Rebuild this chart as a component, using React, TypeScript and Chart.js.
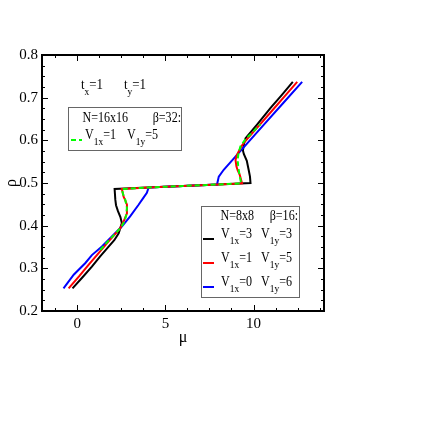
import React, { useEffect, useRef } from "react";
import { Chart, registerables } from "chart.js";

Chart.register(...registerables);

const X_MIN = -2;
const X_MAX = 14;
const Y_MIN = 0.2;
const Y_MAX = 0.8;

const xMajorTicks = [0, 5, 10];
const xMinorTicks = [-1.25, 1.25, 2.5, 3.75, 6.25, 7.5, 8.75, 11.25, 12.5, 13.75];
const yMajorTicks = [0.2, 0.3, 0.4, 0.5, 0.6, 0.7, 0.8];
const yMinorTicks = [
  0.225, 0.25, 0.275, 0.325, 0.35, 0.375, 0.425, 0.45, 0.475,
  0.525, 0.55, 0.575, 0.625, 0.65, 0.675, 0.725, 0.75, 0.775,
];

// N=8x8, V1x=3 V1y=3
const blackX = [-0.27, 0.3, 0.83, 1.3, 1.78, 2.1, 2.35, 2.53, 2.45, 2.31, 2.2, 2.16, 2.12, 4.0, 6.0, 8.0, 9.83, 9.8, 9.73, 9.62, 9.45, 9.4, 9.46, 9.55, 10.2, 10.97, 11.6, 12.23];
const blackY = [0.253, 0.279, 0.304, 0.328, 0.351, 0.366, 0.382, 0.406, 0.42, 0.434, 0.448, 0.461, 0.486, 0.4894, 0.493, 0.4966, 0.5, 0.515, 0.53, 0.552, 0.568, 0.576, 0.592, 0.605, 0.637, 0.676, 0.706, 0.737];

// N=8x8, V1x=1 V1y=5
const redX = [-0.49, 0.1, 0.64, 1.2, 1.78, 2.1, 2.44, 2.65, 2.82, 2.82, 2.72, 2.63, 2.53, 4.0, 6.0, 8.0, 9.35, 9.22, 9.1, 9.03, 8.98, 9.05, 9.16, 9.3, 9.45, 10.3, 11.15, 11.8, 12.48];
const redY = [0.253, 0.281, 0.308, 0.335, 0.363, 0.378, 0.394, 0.412, 0.429, 0.449, 0.46, 0.468, 0.486, 0.4894, 0.493, 0.4966, 0.4991, 0.519, 0.53, 0.539, 0.554, 0.565, 0.574, 0.585, 0.594, 0.634, 0.674, 0.705, 0.737];

// N=8x8, V1x=0 V1y=6
const blueX = [-0.78, -0.2, 0.45, 0.83, 1.4, 1.95, 2.53, 3.0, 3.48, 3.75, 3.95, 4.05, 6.0, 7.93, 8.03, 8.31, 9.0, 10.59, 11.7, 12.76];
const blueY = [0.253, 0.285, 0.312, 0.331, 0.351, 0.374, 0.398, 0.422, 0.449, 0.465, 0.477, 0.4895, 0.493, 0.4965, 0.515, 0.531, 0.563, 0.637, 0.688, 0.737];

// N=16x16, V1x=1 V1y=5
const greenX = [1.3, 1.78, 2.2, 2.5, 2.68, 2.78, 2.82, 2.72, 2.6, 2.53, 4.0, 6.0, 8.0, 9.3, 9.2, 9.13, 9.1, 9.15, 9.26, 9.55, 10.0, 10.4];
const greenY = [0.343, 0.365, 0.383, 0.397, 0.41, 0.425, 0.442, 0.461, 0.474, 0.486, 0.4894, 0.493, 0.4966, 0.499, 0.52, 0.54, 0.555, 0.57, 0.586, 0.603, 0.621, 0.638];

const FONT = '"Liberation Serif", "Times New Roman", serif';
const SX = 0.86; // horizontal squeeze of legend text

type Part = [string, boolean];

function richWidth(ctx: CanvasRenderingContext2D, parts: Part[], size: number, subSize: number) {
  let w = 0;
  for (const [t, sub] of parts) {
    ctx.font = `${sub ? subSize : size}px ${FONT}`;
    w += ctx.measureText(t).width;
  }
  return w * SX;
}

function rich(ctx: CanvasRenderingContext2D, x: number, y: number, parts: Part[], size = 14, subSize = 11, subDy = 6) {
  ctx.save();
  ctx.translate(x, y);
  ctx.scale(SX, 1);
  ctx.textBaseline = "alphabetic";
  ctx.textAlign = "left";
  let cx = 0;
  for (const [t, sub] of parts) {
    ctx.font = `${sub ? subSize : size}px ${FONT}`;
    ctx.fillText(t, cx, sub ? subDy : 0);
    cx += ctx.measureText(t).width;
  }
  ctx.restore();
}

const overlayPlugin = {
  id: "graceOverlay",
  beforeDatasetsDraw(chart: any) {
    const { ctx, chartArea: a, scales } = chart;
    const xs = scales.x;
    const ys = scales.y;
    ctx.save();
    ctx.strokeStyle = "#000";
    ctx.lineWidth = 1;
    const tick = (vals: number[], len: number) => {
      for (const v of vals) {
        const px = Math.round(xs.getPixelForValue(v)) + 0.5;
        ctx.beginPath();
        ctx.moveTo(px, a.bottom);
        ctx.lineTo(px, a.bottom - len);
        ctx.moveTo(px, a.top);
        ctx.lineTo(px, a.top + len);
        ctx.stroke();
      }
    };
    const ytick = (vals: number[], len: number) => {
      for (const v of vals) {
        const py = Math.round(ys.getPixelForValue(v)) + 0.5;
        ctx.beginPath();
        ctx.moveTo(a.left, py);
        ctx.lineTo(a.left + len, py);
        ctx.moveTo(a.right, py);
        ctx.lineTo(a.right - len, py);
        ctx.stroke();
      }
    };
    tick(xMajorTicks, 6);
    tick(xMinorTicks, 3);
    ytick(yMajorTicks, 6);
    ytick(yMinorTicks, 3);
    ctx.lineWidth = 2;
    ctx.strokeRect(a.left, a.top, a.right - a.left, a.bottom - a.top);
    ctx.restore();
  },
  afterDatasetsDraw(chart: any) {
    const { ctx } = chart;
    ctx.save();
    ctx.fillStyle = "#000";
    // t_x=1  t_y=1
    rich(ctx, 81, 89, [["t", false], ["x", true], ["=1", false]], 15, 11, 6);
    rich(ctx, 124, 89, [["t", false], ["y", true], ["=1", false]], 15, 11, 6);

    // Box 1
    ctx.fillStyle = "#fff";
    ctx.fillRect(68.5, 107.5, 113, 43);
    ctx.strokeStyle = "#666";
    ctx.lineWidth = 1;
    ctx.strokeRect(68.5, 107.5, 113, 43);
    ctx.fillStyle = "#000";
    rich(ctx, 82.5, 122, [["N=16x16", false]]);
    const b1: Part[] = [["β=32:", false]];
    rich(ctx, 181 - richWidth(ctx, b1, 14, 11), 122, b1);
    ctx.strokeStyle = "#00ff00";
    ctx.lineWidth = 2;
    ctx.setLineDash([5, 3]);
    ctx.beginPath();
    ctx.moveTo(71, 140);
    ctx.lineTo(82, 140);
    ctx.stroke();
    ctx.setLineDash([]);
    ctx.fillStyle = "#000";
    rich(ctx, 85, 139, [["V", false], ["1x", true], ["=1", false]]);
    rich(ctx, 127, 139, [["V", false], ["1y", true], ["=5", false]]);

    // Box 2
    ctx.fillStyle = "#fff";
    ctx.fillRect(201.5, 206.5, 98, 91);
    ctx.strokeStyle = "#666";
    ctx.lineWidth = 1;
    ctx.strokeRect(201.5, 206.5, 98, 91);
    ctx.fillStyle = "#000";
    rich(ctx, 220.5, 220, [["N=8x8", false]]);
    const b2: Part[] = [["β=16:", false]];
    rich(ctx, 298 - richWidth(ctx, b2, 14, 11), 220, b2);
    const rows: [string, string, string, number][] = [
      ["#000000", "=3", "=3", 238],
      ["#ff0000", "=1", "=5", 262],
      ["#0000ff", "=0", "=6", 286],
    ];
    for (const [c, a1, a2, yb] of rows) {
      ctx.strokeStyle = c;
      ctx.lineWidth = 2;
      ctx.beginPath();
      ctx.moveTo(203, yb + 1);
      ctx.lineTo(214, yb + 1);
      ctx.stroke();
      ctx.fillStyle = "#000";
      rich(ctx, 221, yb, [["V", false], ["1x", true], [a1, false]]);
      rich(ctx, 261, yb, [["V", false], ["1y", true], [a2, false]]);
    }
    ctx.restore();
  },
};

function pts(xs: number[], ys: number[]) {
  return xs.map((x, i) => ({ x, y: ys[i] }));
}

export default function App() {
  const ref = useRef<HTMLCanvasElement | null>(null);
  useEffect(() => {
    if (!ref.current) return;
    const base = { showLine: true, pointRadius: 0, borderWidth: 2, tension: 0, fill: false };
    const chart = new Chart(ref.current, {
      type: "scatter",
      data: {
        datasets: [
          { ...base, label: "16x16 V1x=1 V1y=5", data: pts(greenX, greenY), borderColor: "#00ff00", borderDash: [5, 3] },
          { ...base, label: "V1x=1 V1y=5", data: pts(redX, redY), borderColor: "#ff0000" },
          { ...base, label: "V1x=0 V1y=6", data: pts(blueX, blueY), borderColor: "#0000ff" },
          { ...base, label: "V1x=3 V1y=3", data: pts(blackX, blackY), borderColor: "#000000" },
        ],
      },
      options: {
        animation: false,
        responsive: false,
        layout: { padding: { left: 0, top: 55, right: 112, bottom: 85 } },
        plugins: { legend: { display: false }, tooltip: { enabled: false } },
        scales: {
          x: {
            type: "linear",
            min: X_MIN,
            max: X_MAX,
            afterBuildTicks: (s: any) => {
              s.ticks = xMajorTicks.map((v) => ({ value: v }));
            },
            afterFit: (s: any) => {
              s.height = 40;
            },
            grid: { display: false, drawTicks: false },
            border: { display: false },
            ticks: {
              autoSkip: false,
              maxRotation: 0,
              padding: 4,
              color: "#000",
              font: { family: FONT, size: 15 },
              callback: (v: any) => String(v),
            },
            title: {
              display: true,
              text: "μ",
              color: "#000",
              font: { family: FONT, size: 16 },
              padding: { top: 0, bottom: 4 },
            },
          },
          y: {
            type: "linear",
            min: Y_MIN,
            max: Y_MAX,
            afterBuildTicks: (s: any) => {
              s.ticks = yMajorTicks.map((v) => ({ value: v }));
            },
            afterFit: (s: any) => {
              s.width = 42;
            },
            grid: { display: false, drawTicks: false },
            border: { display: false },
            ticks: {
              autoSkip: false,
              padding: 4,
              color: "#000",
              font: { family: FONT, size: 15 },
              callback: (v: any) => Number(v).toFixed(1),
            },
            title: {
              display: true,
              text: "ρ",
              color: "#000",
              font: { family: FONT, size: 16 },
              padding: { top: 2, bottom: 0 },
            },
          },
        },
      },
      plugins: [overlayPlugin],
    } as any);
    return () => chart.destroy();
  }, []);
  return (
    <canvas
      ref={ref}
      width={436}
      height={436}
      style={{ position: "absolute", left: 0, top: 0, display: "block" }}
    />
  );
}
